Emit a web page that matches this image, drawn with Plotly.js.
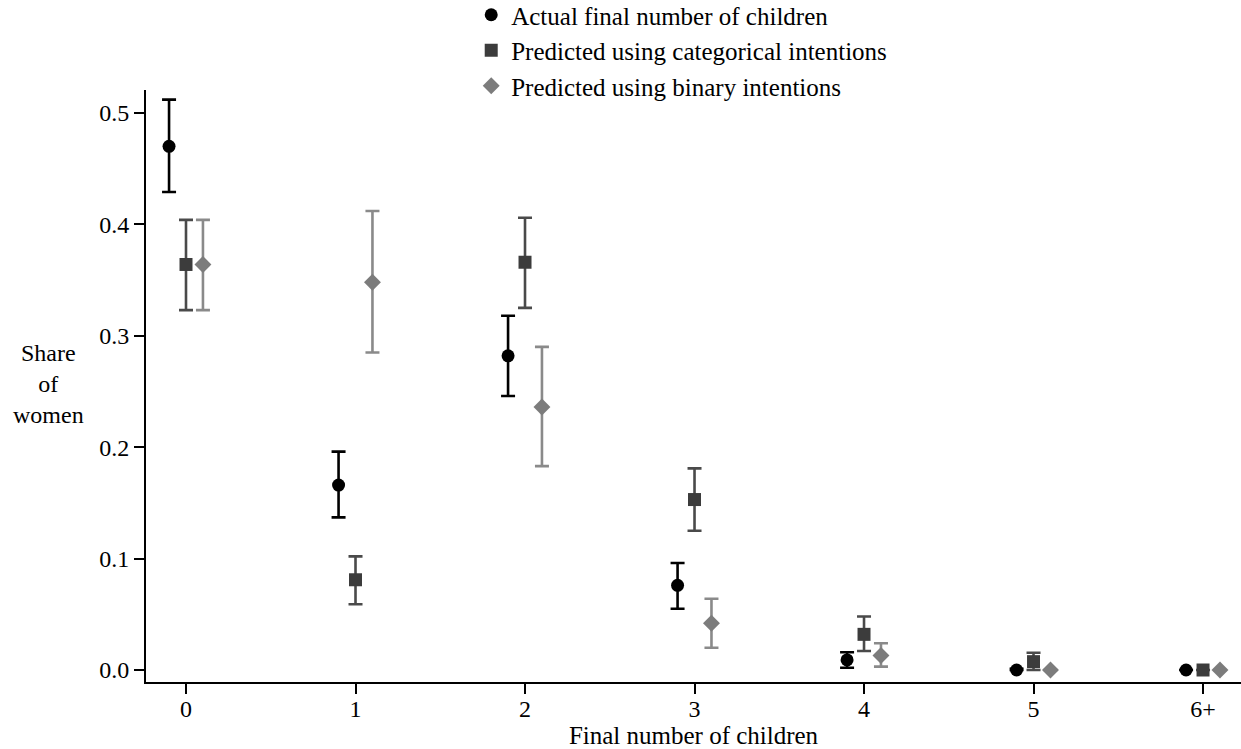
<!DOCTYPE html>
<html>
<head>
<meta charset="utf-8">
<script src="https://cdn.plot.ly/plotly-3.0.1.min.js"></script>
<style>html,body{margin:0;padding:0;background:#fff;}#chart{width:1241px;height:749px;}</style>
</head>
<body>
<div id="chart"></div>
<script>
// Categories (final number of children)
const categories = [0, 1, 2, 3, 4, 5, 6];
const tickLabels = ['0', '1', '2', '3', '4', '5', '6+'];
const yTicks = [0, 0.1, 0.2, 0.3, 0.4, 0.5];

// Actual final number of children
const actual   = [0.470, 0.166, 0.282, 0.076, 0.009, 0.000, 0.000];
const actualLo = [0.429, 0.137, 0.246, 0.055, 0.002, 0.000, 0.000];
const actualHi = [0.512, 0.196, 0.318, 0.096, 0.016, 0.001, 0.000];

// Predicted using categorical intentions
const categorical   = [0.364, 0.081, 0.366, 0.153, 0.032, 0.0075, 0.000];
const categoricalLo = [0.323, 0.059, 0.325, 0.125, 0.017, 0.000, 0.000];
const categoricalHi = [0.404, 0.102, 0.406, 0.181, 0.048, 0.0155, 0.000];

// Predicted using binary intentions
const binary   = [0.364, 0.348, 0.236, 0.042, 0.013, 0.000, 0.000];
const binaryLo = [0.323, 0.285, 0.183, 0.020, 0.003, 0.000, 0.000];
const binaryHi = [0.404, 0.412, 0.290, 0.064, 0.024, 0.000, 0.000];

const FONT = 'Liberation Serif';

function makeTrace(name, vals, lo, hi, offset, symbol, color, barColor) {
  return {
    type: 'scatter', mode: 'markers', name: name,
    x: categories.map(c => c + offset),
    y: vals,
    marker: {symbol: symbol, size: 13, color: color, line: {width: 0}},
    error_y: {
      type: 'data', symmetric: false,
      array: hi.map((h, i) => h - vals[i]),
      arrayminus: lo.map((l, i) => vals[i] - l),
      color: barColor, thickness: 2.6, width: 7
    },
    cliponaxis: false
  };
}

const data = [
  makeTrace('Actual final number of children', actual, actualLo, actualHi, -0.1, 'circle', '#000000', '#000000'),
  makeTrace('Predicted using categorical intentions', categorical, categoricalLo, categoricalHi, 0, 'square', '#3c3c3c', '#4a4a4a'),
  makeTrace('Predicted using binary intentions', binary, binaryLo, binaryHi, 0.1, 'diamond', '#7c7c7c', '#8a8a8a')
];

const layout = {
  width: 1241, height: 749,
  margin: {l: 146, r: 0, t: 90, b: 67, autoexpand: false},
  paper_bgcolor: '#fff', plot_bgcolor: '#fff',
  font: {family: FONT, size: 24, color: '#000'},
  showlegend: true,
  legend: {
    x: 0.297, xanchor: 'left', xref: 'paper',
    y: 1.1655, yanchor: 'top', yref: 'paper',
    font: {family: FONT, size: 25, color: '#000'},
    bgcolor: 'rgba(0,0,0,0)', tracegroupgap: 0, itemwidth: 30
  },
  xaxis: {
    range: [-0.236, 6.224],
    tickvals: categories, ticktext: tickLabels,
    showline: true, linecolor: '#000', linewidth: 2,
    ticks: 'outside', ticklen: 10, tickwidth: 2, tickcolor: '#000',
    ticklabelstandoff: -6,
    showgrid: false, zeroline: false,
    tickfont: {family: FONT, size: 24, color: '#000'},
    title: {text: 'Final number of children', font: {family: FONT, size: 25, color: '#000'}, standoff: 0}
  },
  yaxis: {
    range: [-0.01077, 0.5206],
    tickvals: yTicks,
    tickformat: '.1f',
    showline: true, linecolor: '#000', linewidth: 2,
    ticks: 'outside', ticklen: 10, tickwidth: 2, tickcolor: '#000',
    showgrid: false, zeroline: false,
    tickfont: {family: FONT, size: 24, color: '#000'}
  },
  annotations: [{
    text: 'Share<br>of<br>women', xref: 'paper', yref: 'paper',
    x: -0.089, y: 0.503, xanchor: 'center', yanchor: 'middle',
    showarrow: false, align: 'center',
    font: {family: FONT, size: 24, color: '#000'}
  }]
};

Plotly.newPlot('chart', data, layout, {displayModeBar: false, staticPlot: true});
</script>
</body>
</html>
